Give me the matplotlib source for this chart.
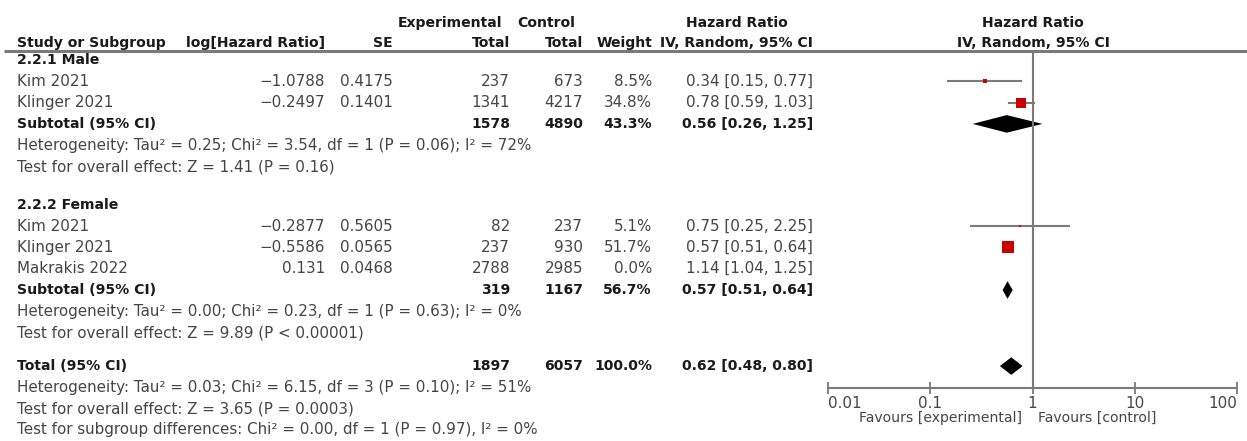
import matplotlib
matplotlib.use("Agg")
import matplotlib.pyplot as plt
import numpy as np

# ---------------- data ----------------
groups = ["2.2.1 Male", "2.2.2 Female"]
study_group = [0, 0, 1, 1, 1]
studies = ["Kim 2021", "Klinger 2021", "Kim 2021", "Klinger 2021", "Makrakis 2022"]
log_hr = [-1.0788, -0.2497, -0.2877, -0.5586, 0.131]
se = [0.4175, 0.1401, 0.5605, 0.0565, 0.0468]
exp_total = [237, 1341, 82, 237, 2788]
ctrl_total = [673, 4217, 237, 930, 2985]
weight = [8.5, 34.8, 5.1, 51.7, 0.0]
hr = [0.34, 0.78, 0.75, 0.57, 1.14]
ci_lo = [0.15, 0.59, 0.25, 0.51, 1.04]
ci_hi = [0.77, 1.03, 2.25, 0.64, 1.25]

sub_exp = [1578, 319]
sub_ctrl = [4890, 1167]
sub_weight = [43.3, 56.7]
sub_hr = [0.56, 0.57]
sub_lo = [0.26, 0.51]
sub_hi = [1.25, 0.64]
sub_het = ["Heterogeneity: Tau² = 0.25; Chi² = 3.54, df = 1 (P = 0.06); I² = 72%",
           "Heterogeneity: Tau² = 0.00; Chi² = 0.23, df = 1 (P = 0.63); I² = 0%"]
sub_test = ["Test for overall effect: Z = 1.41 (P = 0.16)",
            "Test for overall effect: Z = 9.89 (P < 0.00001)"]

tot_exp = 1897
tot_ctrl = 6057
tot_weight = 100.0
tot_hr = 0.62
tot_lo = 0.48
tot_hi = 0.80
tot_notes = ["Heterogeneity: Tau² = 0.03; Chi² = 6.15, df = 3 (P = 0.10); I² = 51%",
             "Test for overall effect: Z = 3.65 (P = 0.0003)",
             "Test for subgroup differences: Chi² = 0.00, df = 1 (P = 0.97), I² = 0%"]

xticks = [0.01, 0.1, 1, 10, 100]
xtick_labels = ["0.01", "0.1", "1", "10", "100"]
favours = ["Favours [experimental]", "Favours [control]"]

# ---------------- layout ----------------
W, H = 1247, 441
fig = plt.figure(figsize=(W / 100, H / 100), dpi=100)
tax = fig.add_axes([0, 0, 1, 1])
tax.set_xlim(0, W)
tax.set_ylim(H, 0)
tax.axis("off")

FS = 10.9
FSB = 10.1
FAM = "DejaVu Sans"
C_TXT = "#454545"
C_BOLD = "#1a1a1a"
C_LINE = "#7a7a7a"
RED = "#cc0000"

def t(x, y, s, ha="left", bold=False, color=None, size=None):
    tax.text(x, y, s, ha=ha, va="center",
             fontsize=size or (FSB if bold else FS), family=FAM,
             fontweight="bold" if bold else "normal",
             color=color or (C_BOLD if bold else C_TXT))

X_NAME = 17
X_LOG = 325
X_SE = 393
X_EXP = 510
X_CTRL = 583
X_W = 652
X_CI = 813

# headers
t(450, 23, "Experimental", ha="center", bold=True)
t(546, 23, "Control", ha="center", bold=True)
t(737, 23, "Hazard Ratio", ha="center", bold=True)
t(1033, 23, "Hazard Ratio", ha="center", bold=True)
t(X_NAME, 43, "Study or Subgroup", bold=True)
t(X_LOG, 43, "log[Hazard Ratio]", ha="right", bold=True)
t(X_SE, 43, "SE", ha="right", bold=True)
t(X_EXP, 43, "Total", ha="right", bold=True)
t(X_CTRL, 43, "Total", ha="right", bold=True)
t(X_W, 43, "Weight", ha="right", bold=True)
t(X_CI, 43, "IV, Random, 95% CI", ha="right", bold=True)
t(1033, 43, "IV, Random, 95% CI", ha="center", bold=True)
tax.plot([4, W], [50.5, 50.5], color=C_LINE, lw=2.2, solid_capstyle="butt")

def fmt_num(v):
    return f"{v:g}".replace("-", "\u2212")

def fmt_ci(h, lo, hi):
    return f"{h:.2f} [{lo:.2f}, {hi:.2f}]"

# forest axes (log scale), y in pixel units
AX_L, AX_R, AX_T, AX_B = 828, 1237, 50, 388
fax = fig.add_axes([AX_L / W, 1 - AX_B / H, (AX_R - AX_L) / W, (AX_B - AX_T) / H])
fax.set_xscale("log")
fax.set_xlim(0.01, 100)
fax.set_ylim(AX_B, AX_T)
fax.patch.set_alpha(0)
for sp in ["top", "left", "right"]:
    fax.spines[sp].set_visible(False)
fax.spines["bottom"].set_color(C_LINE)
fax.spines["bottom"].set_linewidth(1.5)
fax.set_yticks([])
fax.set_xticks(xticks)
fax.set_xticklabels(xtick_labels)
fax.minorticks_off()
fax.tick_params(axis="x", direction="inout", length=8, width=1.3, color=C_LINE,
                labelsize=FS, labelcolor=C_TXT, pad=1.5)
labs = fax.get_xticklabels()
labs[0].set_ha("left")
labs[-1].set_ha("right")
for lb in labs:
    lb.set_family(FAM)
fax.axvline(1, color=C_LINE, lw=1.5)

def diamond(y, h, lo, hi):
    fax.fill([lo, h, hi, h], [y, y - 8.8, y, y + 8.8], color="black", lw=0)

ROW = 21.3
Y0 = 60
group_start = [0, 6.8]
for gi, g in enumerate(groups):
    r = group_start[gi]
    t(X_NAME, Y0 + r * ROW, g, bold=True)
    idx = [i for i, sg in enumerate(study_group) if sg == gi]
    for k, i in enumerate(idx):
        y = Y0 + (r + 1 + k) * ROW
        t(X_NAME, y, studies[i])
        t(X_LOG, y, fmt_num(log_hr[i]), ha="right")
        t(X_SE, y, fmt_num(se[i]), ha="right")
        t(X_EXP, y, f"{exp_total[i]}", ha="right")
        t(X_CTRL, y, f"{ctrl_total[i]}", ha="right")
        t(X_W, y, f"{weight[i]:.1f}%", ha="right")
        t(X_CI, y, fmt_ci(hr[i], ci_lo[i], ci_hi[i]), ha="right")
        if weight[i] > 0:
            side = 0.66 * weight[i] ** 0.75  # pixels
            fax.plot([ci_lo[i], ci_hi[i]], [y, y], color=C_LINE, lw=1.5, zorder=2)
            fax.plot([hr[i]], [y], marker="s", ms=side * 0.72, color=RED,
                     mec=RED, mew=0, zorder=3)
    ys = Y0 + (r + 1 + len(idx)) * ROW
    t(X_NAME, ys, "Subtotal (95% CI)", bold=True)
    t(X_EXP, ys, f"{sub_exp[gi]}", ha="right", bold=True)
    t(X_CTRL, ys, f"{sub_ctrl[gi]}", ha="right", bold=True)
    t(X_W, ys, f"{sub_weight[gi]:.1f}%", ha="right", bold=True)
    t(X_CI, ys, fmt_ci(sub_hr[gi], sub_lo[gi], sub_hi[gi]), ha="right", bold=True)
    diamond(ys, sub_hr[gi], sub_lo[gi], sub_hi[gi])
    t(X_NAME, ys + ROW, sub_het[gi])
    t(X_NAME, ys + 2 * ROW, sub_test[gi])

yt = Y0 + 14.37 * ROW
t(X_NAME, yt, "Total (95% CI)", bold=True)
t(X_EXP, yt, f"{tot_exp}", ha="right", bold=True)
t(X_CTRL, yt, f"{tot_ctrl}", ha="right", bold=True)
t(X_W, yt, f"{tot_weight:.1f}%", ha="right", bold=True)
t(X_CI, yt, fmt_ci(tot_hr, tot_lo, tot_hi), ha="right", bold=True)
diamond(yt, tot_hr, tot_lo, tot_hi)
for k, s in enumerate(tot_notes):
    t(X_NAME, yt + (k + 1) * ROW, s)

t(1022, 418, favours[0], ha="right", size=10.1)
t(1038, 418, favours[1], ha="left", size=10.1)

fig.savefig("out.png", dpi=100)
